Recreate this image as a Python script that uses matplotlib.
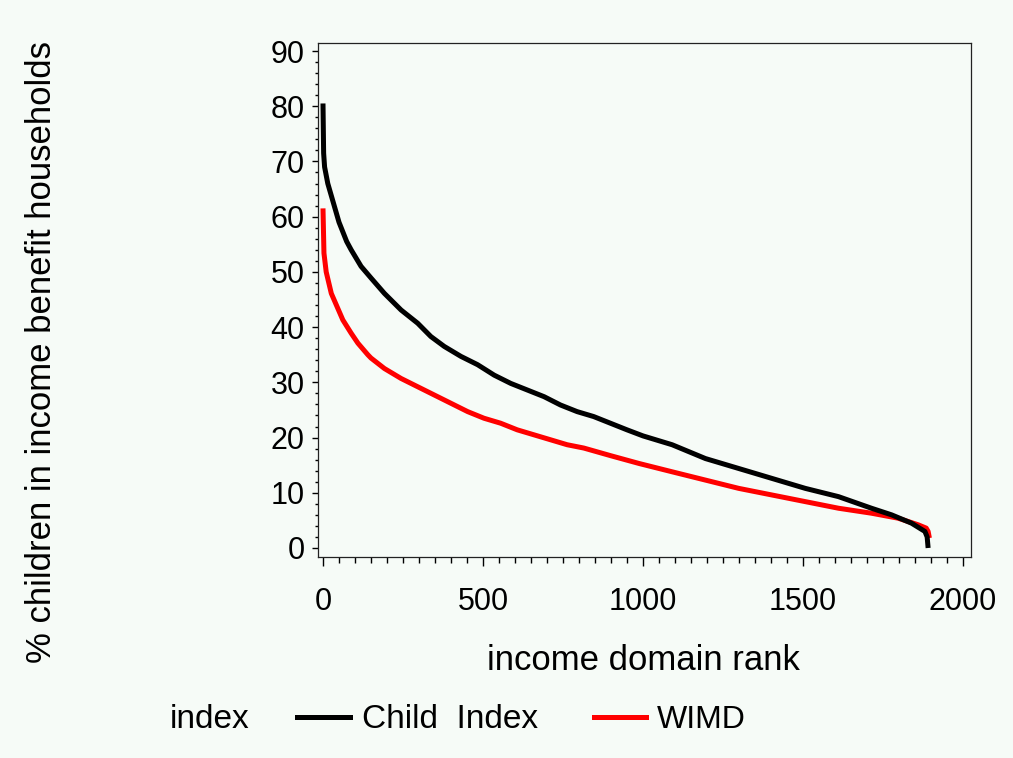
import matplotlib
matplotlib.use("Agg")
import matplotlib.pyplot as plt
from matplotlib.lines import Line2D
from matplotlib.ticker import MultipleLocator

plt.rcParams['font.family'] = ['Liberation Sans', 'DejaVu Sans']

child_rank = [0, 2, 5, 15, 27, 50, 74, 88, 119, 150, 192, 244, 296, 337, 379,
              431, 483, 535, 587, 639, 691, 742, 794, 846, 898, 950, 1000,
              1091, 1195, 1299, 1403, 1507, 1611, 1714, 1777, 1839, 1881, 1888,
              1891]
child_pct = [80.5, 71.5, 69, 66, 63.6, 59, 55.5, 54, 51, 48.9, 46.1, 43.1,
             40.7, 38.3, 36.5, 34.7, 33.2, 31.3, 29.8, 28.6, 27.4, 25.9, 24.7,
             23.8, 22.6, 21.4, 20.3, 18.7, 16.2, 14.4, 12.6, 10.8, 9.3, 7.2,
             6.0, 4.5, 3.0, 2.0, 0.0]

wimd_rank = [0, 3, 10, 26, 62, 88, 109, 140, 150, 192, 244, 296, 348, 400,
             452, 503, 555, 607, 659, 711, 763, 815, 900, 988, 1091, 1195,
             1299, 1403, 1507, 1611, 1714, 1797, 1860, 1885, 1891, 1895]
wimd_pct = [61.5, 53.4, 50, 46.1, 41.3, 38.9, 37.1, 35, 34.4, 32.5, 30.7,
            29.2, 27.7, 26.2, 24.7, 23.5, 22.6, 21.4, 20.5, 19.6, 18.7, 18.1,
            16.7, 15.3, 13.8, 12.3, 10.8, 9.6, 8.4, 7.2, 6.3, 5.4, 4.2, 3.6,
            3.0, 1.8]

x_ticks = [0, 500, 1000, 1500, 2000]
y_ticks = [0, 10, 20, 30, 40, 50, 60, 70, 80, 90]

bg = '#f6fbf7'
W, H = 1013, 758

fig = plt.figure(figsize=(W / 100, H / 100), dpi=100, facecolor=bg)
ax = fig.add_axes([318 / W, 1 - 557 / H, (971 - 318) / W, (557 - 43) / H])
ax.set_facecolor(bg)

ax.plot(wimd_rank, wimd_pct, color='#ff0000', lw=3.6, solid_capstyle='butt')
ax.plot(child_rank, child_pct, color='black', lw=3.6, solid_capstyle='butt')

ax.set_xlim(-15.6, 2025)
ax.set_ylim(-1.63, 91.45)
ax.set_xticks(x_ticks)
ax.set_yticks(y_ticks)
ax.xaxis.set_minor_locator(MultipleLocator(50))
ax.yaxis.set_minor_locator(MultipleLocator(2))

ax.tick_params(axis='x', which='major', length=6.5, width=1, pad=15, labelsize=22)
ax.tick_params(axis='x', which='minor', length=4.3, width=1)
ax.tick_params(axis='y', which='major', length=4.5, width=1, pad=5, labelsize=22)
ax.tick_params(axis='y', which='minor', length=2.5, width=1)
for s in ax.spines.values():
    s.set_linewidth(0.9)
    s.set_color('#222222')

fig.text(42 / W, 1 - 352 / H, '% children in income benefit households',
         rotation=90, ha='center', va='center', fontsize=25)
fig.text(643 / W, 1 - 660 / H, 'income domain rank',
         ha='center', va='center', fontsize=25)

# legend row
ly = 1 - 720 / H
fig.text(170 / W, ly, 'index', ha='left', va='center', fontsize=24)
fig.add_artist(Line2D([297 / W, 350 / W], [ly + 0.004, ly + 0.004],
                      color='black', lw=3.6, transform=fig.transFigure))
fig.text(362 / W, ly, 'Child  Index', ha='left', va='center', fontsize=24)
fig.add_artist(Line2D([594 / W, 646 / W], [ly + 0.004, ly + 0.004],
                      color='#ff0000', lw=3.6, transform=fig.transFigure))
fig.text(657 / W, ly, 'WIMD', ha='left', va='center', fontsize=23)

fig.savefig('out.png', dpi=100, facecolor=bg)
